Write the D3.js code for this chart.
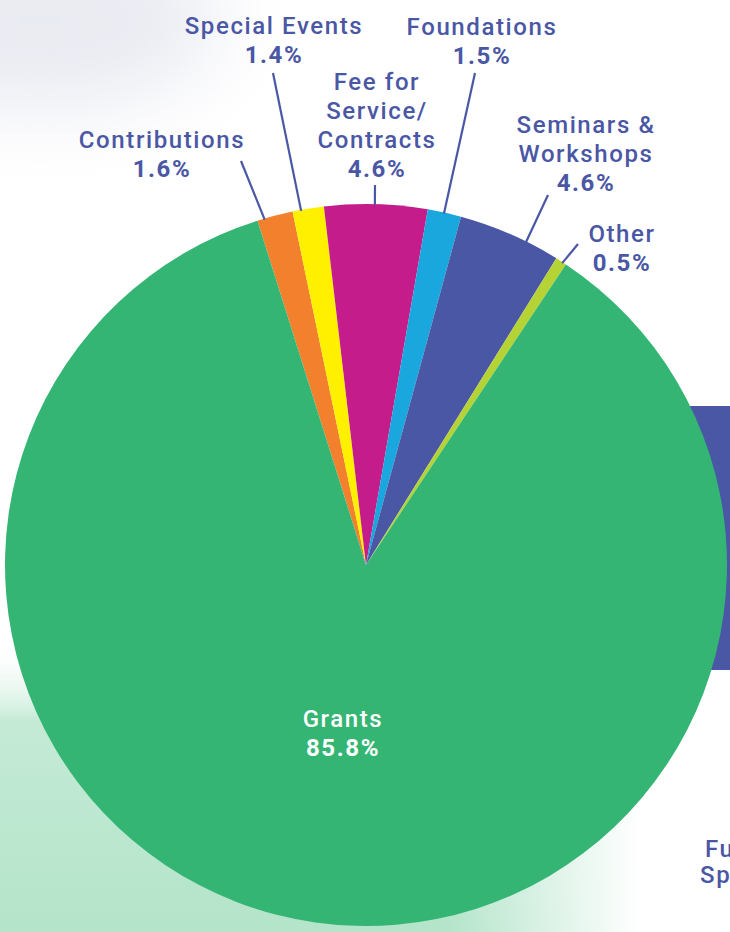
<!DOCTYPE html>
<html lang="en">
<head>
<meta charset="UTF-8">
<title>Revenue by source</title>
<script src="https://d3js.org/d3.v7.min.js"></script>
<style>
  body { margin: 0; background: #ffffff; }
  svg { display: block; }
  .lbl { font-family: Roboto, sans-serif; fill: #4a57a5; font-size: 24px; font-weight: 500; letter-spacing: 1.6px; }
  .pct { font-weight: bold; }
  .leader { stroke: #4a57a5; stroke-width: 2.2; fill: none; }
</style>
</head>
<body>
<svg width="730" height="932"></svg>
<script>
// data, clockwise from the Contributions slice
const categories = ["Contributions", "Special Events", "Fee for Service/Contracts", "Foundations", "Seminars & Workshops", "Other", "Grants"];
const values = [1.6, 1.4, 4.6, 1.5, 4.6, 0.5, 85.8];
const labelLines = [["Contributions"], ["Special Events"], ["Fee for", "Service/", "Contracts"], ["Foundations"], ["Seminars &", "Workshops"], ["Other"], ["Grants"]];
const colors = ["#f2802d", "#fff000", "#c51c8c", "#19a7de", "#4a57a5", "#b5d334", "#34b574"];

// where the outside labels sit (x centre, first baseline) and where the leader meets the arc (fraction of slice)
const labelPos = [
  {x: 162, y: 148, lx: 241, ly: 161, t: 0.2},
  {x: 274, y: 34, lx: 273, ly: 73, t: 0.27},
  {x: 377, y: 90, lx: 375, ly: 185, t: 0.49},
  {x: 482, y: 35, lx: 475, ly: 73, t: 0.49},
  {x: 586, y: 133, lx: 548, ly: 195, t: 0.67},
  {x: 622, y: 242, lx: 578, ly: 244, t: 0.67}
];
const lineH = 29;

const svg = d3.select("svg");
const cx = 366, cy = 565, r = 361;
const data = categories.map((c, i) => ({cat: c, value: values[i], lines: labelLines[i], color: colors[i], i: i}));

// background decoration
const defs = svg.append("defs");
const mint = defs.append("linearGradient").attr("id", "mint").attr("x1", 0).attr("y1", 0).attr("x2", 0).attr("y2", 1);
mint.append("stop").attr("offset", "0%").attr("stop-color", "#ffffff").attr("stop-opacity", 0);
mint.append("stop").attr("offset", "28%").attr("stop-color", "#c4ead5").attr("stop-opacity", 1);
mint.append("stop").attr("offset", "100%").attr("stop-color", "#b4e4ca").attr("stop-opacity", 1);
const fadeX = defs.append("linearGradient").attr("id", "fadeX").attr("x1", 0).attr("y1", 0).attr("x2", 1).attr("y2", 0);
fadeX.append("stop").attr("offset", "0%").attr("stop-color", "#fff");
fadeX.append("stop").attr("offset", "70%").attr("stop-color", "#fff");
fadeX.append("stop").attr("offset", "100%").attr("stop-color", "#000");
defs.append("mask").attr("id", "mx").append("rect")
  .attr("x", 0).attr("y", 640).attr("width", 640).attr("height", 292).attr("fill", "url(#fadeX)");
defs.append("filter").attr("id", "blur")
  .attr("x", "-100%").attr("y", "-100%").attr("width", "300%").attr("height", "300%")
  .append("feGaussianBlur").attr("stdDeviation", 40);

svg.append("ellipse").attr("cx", 40).attr("cy", 20).attr("rx", 180).attr("ry", 90)
  .attr("fill", "#e9ebf2").attr("filter", "url(#blur)");
svg.append("rect").attr("x", 0).attr("y", 640).attr("width", 640).attr("height", 292)
  .attr("fill", "url(#mint)").attr("mask", "url(#mx)");
svg.append("rect").attr("x", 620).attr("y", 406).attr("width", 110).attr("height", 264).attr("fill", "#4a57a5");

svg.append("text").attr("class", "lbl").attr("x", 705).attr("y", 857).text("Funding");
svg.append("text").attr("class", "lbl").attr("x", 700).attr("y", 883).text("Spending");

// pie
const start = -17.5 * Math.PI / 180;
const pie = d3.pie().value(d => d.value).sort(null).startAngle(start).endAngle(start + 2 * Math.PI);
const arc = d3.arc().innerRadius(0).outerRadius(r);
const arcs = pie(data);

const g = svg.append("g").attr("transform", `translate(${cx},${cy})`);
g.selectAll("path.slice")
  .data(arcs)
  .enter().append("path")
  .attr("class", "slice")
  .attr("d", arc)
  .attr("fill", d => d.data.color);

// leaders + outside labels for the small slices
const small = arcs.slice(0, 6);
small.forEach((d, i) => {
  const p = labelPos[i];
  const a = d.startAngle + (d.endAngle - d.startAngle) * p.t;
  const ex = cx + (r - 1) * Math.sin(a), ey = cy - (r - 1) * Math.cos(a);
  svg.append("line").attr("class", "leader")
    .attr("x1", p.lx).attr("y1", p.ly).attr("x2", ex).attr("y2", ey);
  const t = svg.append("text").attr("class", "lbl").attr("text-anchor", "middle");
  d.data.lines.forEach((ln, k) => {
    t.append("tspan").attr("x", p.x).attr("y", p.y + k * lineH).text(ln);
  });
  t.append("tspan").attr("class", "pct").attr("x", p.x).attr("y", p.y + d.data.lines.length * lineH)
    .text(d.data.value.toFixed(1) + "%");
});

// Grants label inside
const big = arcs[6];
const gt = svg.append("text").attr("class", "lbl").attr("text-anchor", "middle").style("fill", "#ffffff");
gt.append("tspan").attr("x", 343).attr("y", 727).text(big.data.lines[0]);
gt.append("tspan").attr("class", "pct").attr("x", 343).attr("y", 756).text(big.data.value.toFixed(1) + "%");
</script>
</body>
</html>
